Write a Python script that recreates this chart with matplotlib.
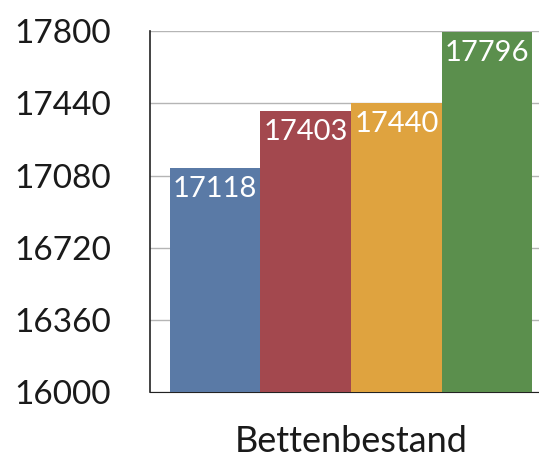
import matplotlib.pyplot as plt
import numpy as np

plt.rcParams["font.family"] = ["Lato", "DejaVu Sans"]

category = "Bettenbestand"
values = [17118, 17403, 17440, 17796]
colors = ["#5a7aa6", "#a3484e", "#dfa33f", "#5b8f4d"]
y_ticks = [16000, 16360, 16720, 17080, 17440, 17800]

fig = plt.figure(figsize=(5.39, 4.59), dpi=100)
ax = fig.add_axes([0.278, 0.146, 0.733, 0.786])

x = np.arange(len(values))
bars = ax.bar(x, values, width=1.0, color=colors, zorder=3)

for b, v in zip(bars, values):
    ax.text(b.get_x() + b.get_width() / 2, v - 40, str(v), ha="center", va="top",
            color="white", fontsize=21, zorder=4)

ax.set_ylim(16000, 17800)
ax.set_xlim(-0.72, 3.64)
ax.set_yticks(y_ticks)
ax.set_yticklabels([str(t) for t in y_ticks], fontsize=24, color="#1a1a1a")
ax.set_xticks([1.5])
ax.set_xticklabels([category], fontsize=26, color="#1a1a1a")
ax.tick_params(axis="both", length=0)
ax.tick_params(axis="y", pad=28)
ax.tick_params(axis="x", pad=24)

ax.yaxis.grid(True, color="#b5b5b5", linewidth=1, zorder=0)
for side in ["top", "right"]:
    ax.spines[side].set_visible(False)
ax.spines["left"].set_color("#222222")
ax.spines["bottom"].set_color("#222222")
ax.spines["left"].set_linewidth(1.2)

fig.savefig("out.png", dpi=100)
